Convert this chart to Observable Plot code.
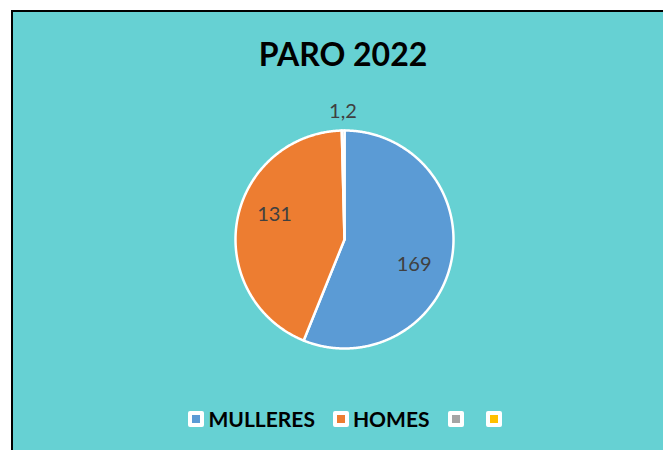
<!DOCTYPE html>
<html>
<head>
<meta charset="utf-8">
<script src="https://cdn.jsdelivr.net/npm/d3@7"></script>
<script src="https://cdn.jsdelivr.net/npm/@observablehq/plot@0.6"></script>
<style>
  html, body { margin: 0; padding: 0; background: #ffffff; width: 663px; height: 450px; overflow: hidden; }
  #frame { position: absolute; left: 11px; top: 10px; width: 700px; height: 500px;
           border-left: 2px solid #000; border-top: 2px solid #000; background: #66D1D3; }
  #title { position: absolute; left: 0; top: 38px; width: 686px; text-align: center;
           font-family: Lato, sans-serif; font-weight: 700; font-size: 32px; line-height: 32px; color: #000; }
  #chart { position: absolute; left: 0; top: 0; }
  #legend { position: absolute; left: 2px; top: 410px; width: 690px; display: flex; justify-content: center;
            align-items: center; font-family: Lato, sans-serif; font-weight: 700; font-size: 21px; color: #000; }
  .item { display: flex; align-items: center; margin: 0 9px; }
  .sw { width: 8px; height: 8px; border: 4.5px solid #fff; border-radius: 2px; }
  .lab { margin-left: 4px; line-height: 18px; }
</style>
</head>
<body>
<div id="frame"></div>
<div id="title">PARO 2022</div>
<div id="chart"></div>
<div id="legend"></div>
<script>
const categories = ["MULLERES", "HOMES", "Serie3", "Serie4"];
const legendLabels = ["MULLERES", "HOMES", "", ""];
const values = [169, 131, 1.2, 0];
const valueLabels = ["169", "131", "1,2", ""];
const colors = ["#5B9BD5", "#ED7D31", "#A5A5A5", "#FFC000"];

const rows = categories.map((c, i) => ({key: c, value: values[i], label: valueLabels[i]}));
const arcs = d3.pie().sort(null).value(d => d.value)(rows);
const total = d3.sum(values);
const labelTurn = Math.PI / 20;

const points = [];
const labels = [];
for (const a of arcs) {
  if (a.endAngle <= a.startAngle) continue;
  points.push({key: a.data.key, x: 0, y: 0});
  const n = Math.max(2, Math.ceil((a.endAngle - a.startAngle) / (Math.PI / 360)));
  for (let i = 0; i <= n; i++) {
    const t = a.startAngle + (a.endAngle - a.startAngle) * i / n;
    points.push({key: a.data.key, x: Math.sin(t), y: Math.cos(t)});
  }
  const mid = (a.startAngle + a.endAngle) / 2;
  const inside = a.data.value / total > 0.05;
  const r = inside ? 0.68 : 1.17;
  const ang = inside ? mid + labelTurn : mid;
  if (a.data.label) labels.push({text: a.data.label, x: r * Math.sin(ang), y: r * Math.cos(ang)});
}

const plot = Plot.plot({
  width: 663,
  height: 450,
  marginLeft: 235,
  marginRight: 210,
  marginTop: 130,
  marginBottom: 102,
  x: {domain: [-1, 1], axis: null},
  y: {domain: [-1, 1], axis: null},
  color: {domain: categories, range: colors},
  style: {background: "transparent", overflow: "visible"},
  marks: [
    Plot.line(points, {x: "x", y: "y", z: "key", fill: "key", stroke: "white", strokeWidth: 2.5, curve: "linear-closed"}),
    Plot.text(labels, {x: "x", y: "y", text: "text", fill: "#404040", fontSize: 20, fontFamily: "Lato, sans-serif"})
  ]
});
document.getElementById("chart").appendChild(plot);

const legend = d3.select("#legend");
categories.forEach((c, i) => {
  const item = legend.append("div").attr("class", "item");
  item.append("div").attr("class", "sw").style("background", colors[i]);
  item.append("span").attr("class", "lab").text(legendLabels[i]);
});
</script>
</body>
</html>
